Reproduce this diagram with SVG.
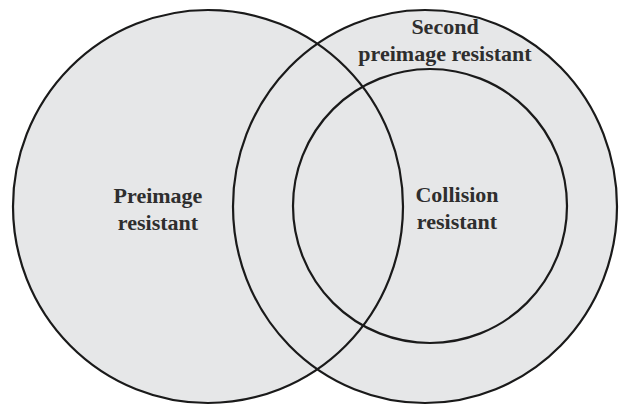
<svg xmlns="http://www.w3.org/2000/svg" width="619" height="408" viewBox="0 0 619 408">
  <style>
    .set { fill: #e6e7e8; stroke: #1a1a1a; stroke-width: 2.2; }
    .line { fill: none; stroke: #1a1a1a; stroke-width: 2.2; }
    .lbl { font-family: "Liberation Serif", "Times New Roman", serif; font-weight: bold; font-size: 22px; fill: #2e2e2e; text-anchor: middle; }
  </style>
  <rect x="0" y="0" width="619" height="408" fill="#ffffff"/>
  <g id="fills">
    <ellipse cx="208" cy="206.5" rx="195" ry="196.5" fill="#e6e7e8"/>
    <ellipse cx="425" cy="206.5" rx="192" ry="196.5" fill="#e6e7e8"/>
  </g>
  <g id="preimage">
    <ellipse class="line" cx="208" cy="206.5" rx="195" ry="196.5"/>
    <text class="lbl" x="158" y="203">Preimage</text>
    <text class="lbl" x="158" y="230">resistant</text>
  </g>
  <g id="second-preimage">
    <ellipse class="line" cx="425" cy="206.5" rx="192" ry="196.5"/>
    <text class="lbl" x="445" y="34">Second</text>
    <text class="lbl" x="445" y="61">preimage resistant</text>
  </g>
  <g id="collision">
    <ellipse class="line" cx="430" cy="206" rx="137" ry="137"/>
    <text class="lbl" x="457" y="202">Collision</text>
    <text class="lbl" x="457" y="229">resistant</text>
  </g>
  <g id="connectors"></g>
</svg>
